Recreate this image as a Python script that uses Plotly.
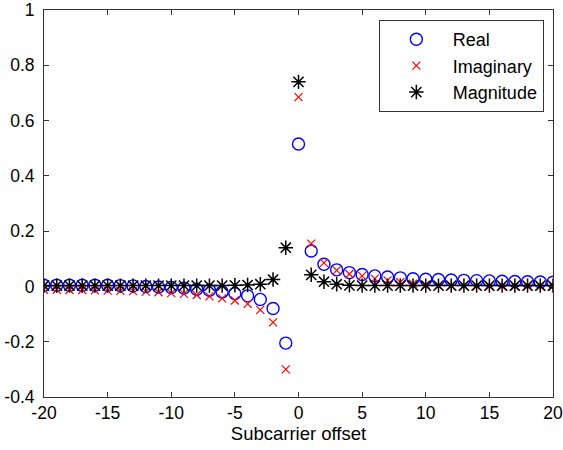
import plotly.graph_objects as go

x = list(range(-20, 21))

real = [0.004, 0.004, 0.004, 0.004, 0.004, 0.004, 0.003, 0.002, 0.0, -0.002,
        -0.004, -0.006, -0.010, -0.014, -0.020, -0.026, -0.034, -0.047, -0.080, -0.205,
        0.515,
        0.128, 0.080, 0.060, 0.050, 0.043, 0.038, 0.034, 0.031, 0.028, 0.026,
        0.025, 0.023, 0.022, 0.021, 0.020, 0.019, 0.018, 0.017, 0.016, 0.015]

imag = [-0.012, -0.012, -0.013, -0.013, -0.014, -0.015, -0.016, -0.017, -0.019, -0.021,
        -0.024, -0.027, -0.031, -0.036, -0.043, -0.051, -0.063, -0.085, -0.130, -0.300,
        0.685,
        0.155, 0.085, 0.058, 0.045, 0.038, 0.028, 0.022, 0.015, 0.010, 0.006,
        0.003, 0.002, 0.001, 0.0, 0.0, 0.0, 0.0, 0.0, 0.0, 0.0]

mag = [0.003, 0.003, 0.003, 0.003, 0.003, 0.003, 0.003, 0.003, 0.003, 0.003,
       0.003, 0.003, 0.003, 0.003, 0.003, 0.004, 0.005, 0.008, 0.025, 0.140,
       0.740,
       0.042, 0.017, 0.008, 0.004, 0.003, 0.003, 0.003, 0.003, 0.003, 0.003,
       0.003, 0.003, 0.003, 0.003, 0.003, 0.003, 0.003, 0.003, 0.003, 0.003]

xticks = [-20, -15, -10, -5, 0, 5, 10, 15, 20]
xticklabels = ["-20", "-15", "-10", "-5", "0", "5", "10", "15", "20"]
yticks = [-0.4, -0.2, 0, 0.2, 0.4, 0.6, 0.8, 1]
yticklabels = ["-0.4", "-0.2", "0", "0.2", "0.4", "0.6", "0.8", "1"]

FONT = "Liberation Sans"
FS = 17.5

fig = go.Figure()
fig.add_trace(go.Scatter(x=x, y=real, mode="markers", name="Real",
                         marker=dict(symbol="circle-open", size=12, color="#0000ff",
                                     line=dict(width=1.4, color="#0000ff"))))
fig.add_trace(go.Scatter(x=x, y=imag, mode="markers", name="Imaginary",
                         marker=dict(symbol="x-thin-open", size=8, color="#ff0000",
                                     line=dict(width=1.2, color="#ff0000"))))
fig.add_trace(go.Scatter(x=x, y=mag, mode="markers", name="Magnitude",
                         marker=dict(symbol="asterisk-open", size=12, color="#000000",
                                     line=dict(width=1.5, color="#000000"))))

axis_common = dict(showgrid=False, zeroline=False, ticks="inside", ticklen=5,
                   tickcolor="#333333", showline=True, linecolor="#333333", linewidth=1,
                   mirror="ticks", automargin=False,
                   tickfont=dict(family=FONT, size=FS, color="black"))

fig.update_layout(
    width=563, height=450,
    margin=dict(l=44, r=10, t=10, b=53),
    paper_bgcolor="white", plot_bgcolor="white",
    font=dict(family=FONT, size=FS, color="black"),
    showlegend=True,
    legend=dict(x=0.982, y=0.974, xanchor="right", yanchor="top",
                bordercolor="#333333", borderwidth=1, bgcolor="white",
                itemwidth=63,
                font=dict(family=FONT, size=18, color="black")),
    xaxis=dict(range=[-20, 20], tickvals=xticks, ticktext=xticklabels,
               title=dict(text="Subcarrier offset", standoff=5,
                          font=dict(family=FONT, size=18.5, color="black")),
               **axis_common),
    yaxis=dict(range=[-0.4, 1], tickvals=yticks, ticktext=yticklabels,
               ticklabelstandoff=5, **axis_common),
)

fig.write_html("out.html")
